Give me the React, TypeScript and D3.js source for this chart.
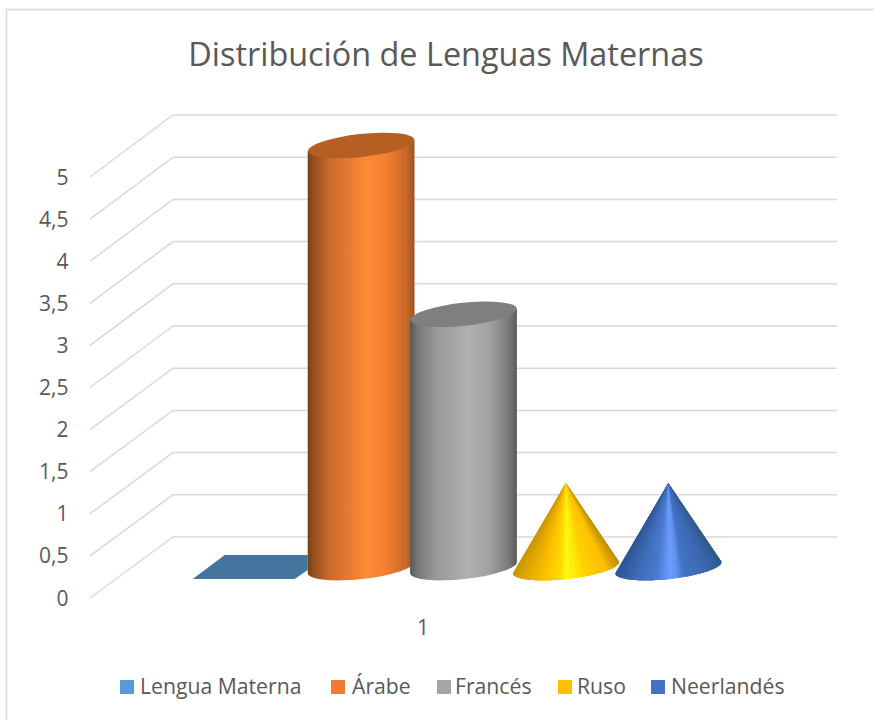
import React from "react";
import * as d3 from "d3";

const title = "Distribución de Lenguas Maternas";
const category = "1";
const seriesNames = ["Lengua Materna", "Árabe", "Francés", "Ruso", "Neerlandés"];
const seriesValues = [0, 5, 3, 1, 1];
const seriesShapes = ["flat", "cylinder", "cylinder", "cone", "cone"];
const legendColors = ["#5b9bd5", "#ed7d31", "#a5a5a5", "#ffc000", "#4472c4"];
const tickValues = d3.range(0, 5.5, 0.5);
const formatTick = (v: number) => String(v).replace(".", ",");

const legendSwatchX = [120, 331, 437, 558, 651];
const legendTextX = [140, 352, 455, 577, 671];
const gradStops: Record<string, [number, string][]> = {
  "Árabe": [[0, "#7a3e14"], [0.06, "#96501d"], [0.2, "#c96a2a"], [0.55, "#ff8a36"], [0.72, "#f5822f"], [0.93, "#c66628"], [1, "#a0531f"]],
  "Francés": [[0, "#585858"], [0.08, "#7a7a7a"], [0.25, "#9a9a9a"], [0.55, "#b0b0b0"], [0.75, "#a0a0a0"], [0.93, "#787878"], [1, "#5a5a5a"]],
  "Ruso": [[0, "#c99700"], [0.12, "#e0a800"], [0.3, "#ffc000"], [0.45, "#ffdc00"], [0.5, "#fff81a"], [0.6, "#ffe800"], [0.68, "#ffd000"], [0.88, "#ffc000"], [1, "#c09000"]],
  "Neerlandés": [[0, "#2f5597"], [0.2, "#3f6cba"], [0.38, "#4a7ace"], [0.52, "#6c9dff"], [0.6, "#5d8fe8"], [0.64, "#4473c6"], [0.85, "#3d68b0"], [1, "#2f5a90"]],
};
const topColors: Record<string, string> = { "Árabe": "#b55f24", "Francés": "#7f7f7f" };

const W = 874, H = 720;
// y at the front-left, mid depth and back plane of the 3D floor
const yFront = d3.scaleLinear().domain([0, 5]).range([598, 177]);
const yBack = d3.scaleLinear().domain([0, 5]).range([537, 115]);
const yMid = d3.scaleLinear().domain([0, 5]).range([567.5, 145.5]);
const xBand = d3.scaleBand<string>().domain(seriesNames).range([207.5, 719.5]).padding(0);

const rx = 53.4, ry = 11.5, rotDeg = -6.2;
const rot = (rotDeg * Math.PI) / 180;
const dy = rx * Math.sin(-rot);

function Mark({ name, i }: { name: string; i: number }) {
  const cx = (xBand(name) as number) + xBand.bandwidth() / 2;
  const y0 = yMid(0), y1 = yMid(seriesValues[i]);
  const l = cx - rx, r = cx + rx;
  const shape = seriesShapes[i];
  if (shape === "cylinder") {
    return (
      <g>
        <path d={`M${l},${y1 + dy} L${l},${y0 + dy} A${rx},${ry} ${rotDeg} 0 0 ${r},${y0 - dy} L${r},${y1 - dy} Z`} fill={`url(#g${i})`} />
        <ellipse cx={cx} cy={y1} rx={rx} ry={ry} transform={`rotate(${rotDeg} ${cx} ${y1})`} fill={topColors[name]} />
      </g>
    );
  }
  if (shape === "cone") {
    // the cone is a fan of slices from the apex; each overlaps the next so no seams show
    const stops = gradStops[name];
    const color = d3.scaleLinear<string>().domain(stops.map((s) => s[0])).range(stops.map((s) => s[1]));
    const n = 70;
    const pt = (t: number): [number, number] => {
      const a = Math.PI * (1 - t);
      const ex = rx * Math.cos(a), ey = ry * Math.sin(a);
      return [cx + ex * Math.cos(rot) - ey * Math.sin(rot), y0 + ex * Math.sin(rot) + ey * Math.cos(rot)];
    };
    return (
      <g>
        {d3.range(n).map((k) => {
          const a = pt(k / n);
          const end = Math.min(k + 4, n);
          const arc = d3.range(k + 1, end + 1).map((j) => pt(j / n).join(",")).join(" L");
          const b = pt((k + 1) / n);
          const c = color(((a[0] + b[0]) / 2 - l) / (2 * rx));
          return <path key={k} d={`M${cx},${y1} L${a[0]},${a[1]} L${arc} Z`} fill={c} />;
        })}
      </g>
    );
  }
  // zero-height column: only its flat footprint remains
  const yb = yMid(0) + 11.5, yt = yMid(0) - 12.5;
  return (
    <path d={`M${cx - 66},${yb} L${cx + 36},${yb} L${cx + 49},${yb - 9} L${cx + 49},${yt} L${cx - 34},${yt} Z`} fill="#44759f" />
  );
}

export default function App() {
  return (
    <svg width={W} height={H} style={{ position: "absolute", left: 0, top: 0 }} fontFamily="'Open Sans', sans-serif">
      <defs>
        {seriesNames.map((n, i) => gradStops[n] ? (
          <linearGradient key={n} id={`g${i}`} x1="0" x2="1" y1="0" y2="0">
            {gradStops[n].map(([o, c]) => <stop key={o} offset={o} stopColor={c} />)}
          </linearGradient>
        ) : null)}
      </defs>
      <rect x={0} y={0} width={W} height={H} fill="#fff" />
      <path d={`M6.5,720 V9.5 H874`} fill="none" stroke="#d9d9d9" strokeWidth={1.5} />
      <text x={446} y={65.5} textAnchor="middle" fontSize={32.4} fill="#595959">{title}</text>
      {tickValues.map((v) => (
        <g key={v}>
          <polyline points={`90,${yFront(v)} 173,${yBack(v)} 837,${yBack(v)}`} fill="none" stroke="#d9d9d9" strokeWidth={1.5} />
          <text x={68.5} y={yFront(v) + 7.5} textAnchor="end" fontSize={21} fill="#595959">{formatTick(v)}</text>
        </g>
      ))}
      {seriesNames.map((n, i) => <Mark key={n} name={n} i={i} />)}
      <text x={423} y={635} textAnchor="middle" fontSize={21} fill="#595959">{category}</text>
      {seriesNames.map((n, i) => (
        <g key={n}>
          <rect x={legendSwatchX[i]} y={680} width={14} height={14} fill={legendColors[i]} />
          <text x={legendTextX[i]} y={693.5} fontSize={21.2} fill="#595959">{n}</text>
        </g>
      ))}
    </svg>
  );
}
